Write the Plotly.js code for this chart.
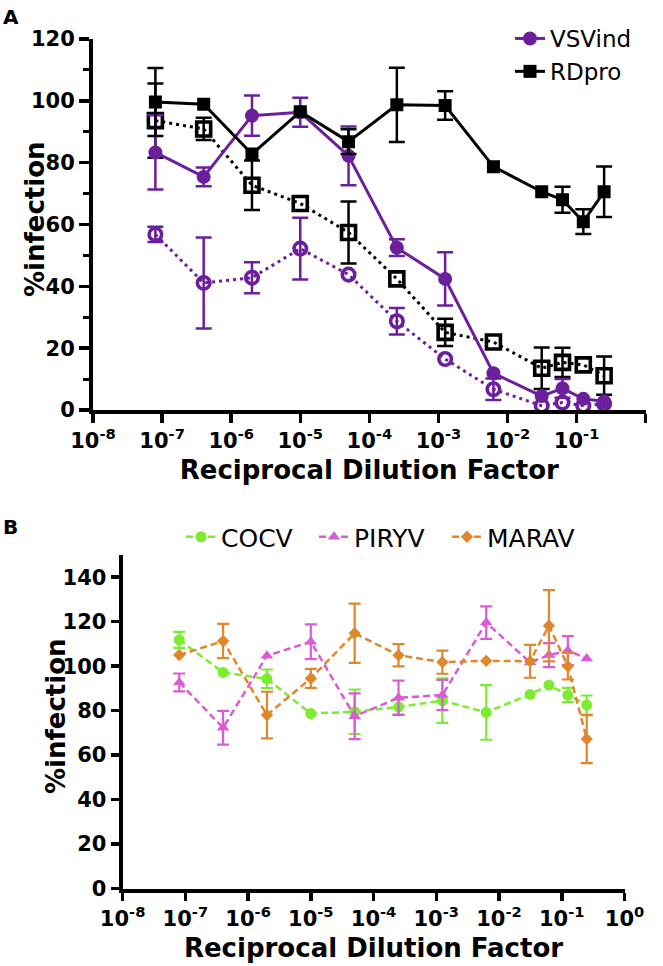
<!DOCTYPE html>
<html>
<head>
<meta charset="utf-8">
<script src="https://cdn.plot.ly/plotly-3.0.1.min.js"></script>
<style>html,body{margin:0;padding:0;background:#fff;} #chart{width:663px;height:966px;}</style>
</head>
<body>
<div id="chart"></div>
<script>
// ---- Data ----
const dilution = [8e-8, 4e-7, 2e-6, 1e-5, 5e-5, 2.5e-4, 1.25e-3, 6.25e-3, 0.03125, 0.0625, 0.125, 0.25];
const tickVals = [1e-8, 1e-7, 1e-6, 1e-5, 1e-4, 1e-3, 1e-2, 1e-1, 1];
const tickText = ['10<sup>-8</sup>', '10<sup>-7</sup>', '10<sup>-6</sup>', '10<sup>-5</sup>', '10<sup>-4</sup>', '10<sup>-3</sup>', '10<sup>-2</sup>', '10<sup>-1</sup>', '10<sup>0</sup>'];

// Panel A
const vsvind      = [83.3, 75.4, 95.2, 96.3, 82.2, 52.5, 42.4, 11.9, 4.5, 7.0, 3.6, 2.8];
const vsvindErr   = [12, 3, 6.5, 4.7, 9.5, 2.7, 8.6, null, null, 3, null, null];
const vsvindOpen  = [56.8, 41.1, 42.8, 52.2, 43.8, 28.7, 16.5, 6.7, 1.4, 2.4, 1.4, 2.0];
const vsvindOpenErr = [2.5, 14.7, 5, 10, null, 4.3, null, 3.5, null, null, null, null];
const rdpro       = [99.6, 98.9, 82.8, 96.5, 86.8, 98.7, 98.5, 78.7, 70.6, 68.0, 60.9, 70.6];
const rdproErr    = [11, null, null, null, 4, 12, 4.6, null, null, 4.2, 4, 8.2];
const rdproOpen   = [93.6, 90.9, 72.7, 66.8, 57.4, 42.4, 25.1, 22.0, 13.5, 15.4, 14.6, 11.1];
const rdproOpenErr = [12, 3.6, 8, null, 10, null, 4.4, null, 6.7, 4.7, null, 6.2];

// Panel B
const cocv     = [111.8, 97.2, 94.3, 78.7, 79.5, 81.7, 84.5, 79.2, 87.3, 91.5, 87.0, 82.5];
const cocvErr  = [3.6, null, 4.2, null, 10, 3.5, 10, 12.3, null, null, 3.2, 4.3];
const piryv    = [92.7, 72.3, 104.7, 111.0, 77.5, 85.8, 87.0, 119.6, 101.7, 105.0, 107.0, 103.5];
const piryvErr = [4, 7.6, null, 7.8, 10.3, 7.7, 6.8, 7.3, null, 5.4, 6.5, null];
const marav    = [105.0, 111.3, 78.0, 94.5, 114.8, 104.9, 101.8, 102.4, 102.2, 118.2, 100.0, 67.2];
const maravErr = [null, 7.7, 10.5, 4.3, 13.3, 5, 5.2, null, 7.4, 16, 6, 10.8];

const labelA = 'A', labelB = 'B';
const xTitle = 'Reciprocal Dilution Factor';
const yTitle = '%infection';

// ---- Styling ----
const PURPLE = '#6B1F9C';
const BLACK = '#000000';
const GREEN = '#7DEB2F';
const MAGENTA = '#D95CD6';
const ORANGE = '#E0862B';
const clean = a => a.map(v => v === null ? NaN : v);

function errA(arr, color) {
  return {type: 'data', array: clean(arr), visible: true, color: color, thickness: 2.5, width: 8};
}
function errB(arr, color) {
  return {type: 'data', array: clean(arr), visible: true, color: color, thickness: 2.2, width: 6};
}

const traces = [
  {x: dilution, y: vsvindOpen, xaxis: 'x', yaxis: 'y', mode: 'lines+markers', showlegend: false,
   line: {color: PURPLE, width: 3, dash: '3px,4px'},
   marker: {symbol: 'circle-open', size: 12.5, color: PURPLE, line: {color: PURPLE, width: 3.6}},
   error_y: errA(vsvindOpenErr, PURPLE), name: 'VSVind (open)'},
  {x: dilution, y: rdproOpen, xaxis: 'x', yaxis: 'y', mode: 'lines+markers', showlegend: false,
   line: {color: BLACK, width: 3, dash: '3px,4px'},
   marker: {symbol: 'square-open', size: 14, color: BLACK, line: {color: BLACK, width: 3.6}},
   error_y: errA(rdproOpenErr, BLACK), name: 'RDpro (open)'},
  {x: dilution, y: vsvind, xaxis: 'x', yaxis: 'y', mode: 'lines+markers', name: 'VSVind', legend: 'legend',
   line: {color: PURPLE, width: 3},
   marker: {symbol: 'circle', size: 14, color: PURPLE},
   error_y: errA(vsvindErr, PURPLE)},
  {x: dilution, y: rdpro, xaxis: 'x', yaxis: 'y', mode: 'lines+markers', name: 'RDpro', legend: 'legend',
   line: {color: BLACK, width: 3},
   marker: {symbol: 'square', size: 13, color: BLACK},
   error_y: errA(rdproErr, BLACK)},

  {x: dilution, y: cocv, xaxis: 'x2', yaxis: 'y2', mode: 'lines+markers', name: 'COCV', legend: 'legend2',
   line: {color: GREEN, width: 2.5, dash: '7px,4px'},
   marker: {symbol: 'circle', size: 11, color: GREEN},
   error_y: errB(cocvErr, GREEN)},
  {x: dilution, y: piryv, xaxis: 'x2', yaxis: 'y2', mode: 'lines+markers', name: 'PIRYV', legend: 'legend2',
   line: {color: MAGENTA, width: 2.5, dash: '7px,4px'},
   marker: {symbol: 'triangle-up', size: 11, color: MAGENTA},
   error_y: errB(piryvErr, MAGENTA)},
  {x: dilution, y: marav, xaxis: 'x2', yaxis: 'y2', mode: 'lines+markers', name: 'MARAV', legend: 'legend2',
   line: {color: ORANGE, width: 2.5, dash: '7px,4px'},
   marker: {symbol: 'diamond', size: 9.5, color: ORANGE},
   error_y: errB(maravErr, ORANGE)}
];

const W = 663, H = 966;
const FONT = 'DejaVu Sans, Liberation Sans, Arial, sans-serif';

function xAxis(domain, anchor, tl) {
  return {
    domain: domain, anchor: anchor, type: 'log', range: [-8, 0],
    tickmode: 'array', tickvals: tickVals, ticktext: tickText,
    ticks: 'outside', ticklen: tl, tickwidth: 3.5, tickcolor: BLACK,
    showline: true, linewidth: 4, linecolor: BLACK,
    showgrid: false, zeroline: false, automargin: false,
    tickfont: {family: FONT, size: 21, weight: 'bold', color: BLACK},
    title: {text: xTitle, font: {family: FONT, size: 26, weight: 'bold', color: BLACK}, standoff: 10}
  };
}
function yAxis(domain, anchor, range, minor, tl) {
  const ax = {
    domain: domain, anchor: anchor, range: range, tick0: 0, dtick: 20,
    ticks: 'outside', ticklen: tl, tickwidth: 3.5, tickcolor: BLACK,
    showline: true, linewidth: 4, linecolor: BLACK,
    showgrid: false, zeroline: false, automargin: false,
    tickfont: {family: FONT, size: 21, weight: 'bold', color: BLACK}
  };
  if (minor) ax.minor = {dtick: 10, tick0: 0, ticks: 'outside', ticklen: 6, tickwidth: 3, tickcolor: BLACK, showgrid: false};
  return ax;
}

const yTitleFont = {family: FONT, size: 26, weight: 'bold', color: BLACK};

const layout = {
  width: W, height: H,
  margin: {l: 0, r: 0, t: 0, b: 0},
  paper_bgcolor: '#ffffff', plot_bgcolor: '#ffffff',
  font: {family: FONT, color: BLACK},
  xaxis: xAxis([93 / W, 645.7 / W], 'y', 9),
  yaxis: yAxis([(H - 410) / H, (H - 39) / H], 'x', [0, 120], true, 10),
  xaxis2: xAxis([122.6 / W, 624.5 / W], 'y2', 8),
  yaxis2: yAxis([(H - 888.5) / H, (H - 555) / H], 'x2', [0, 150], false, 8),
  legend: {x: 510 / W, xanchor: 'left', y: (H - 17) / H, yanchor: 'top',
    bgcolor: 'rgba(0,0,0,0)', borderwidth: 0, tracegroupgap: 0,
    font: {family: FONT, size: 23, color: BLACK}},
  legend2: {orientation: 'h', x: 181 / W, xanchor: 'left', y: (H - 537) / H, yanchor: 'middle',
    bgcolor: 'rgba(0,0,0,0)', borderwidth: 0, entrywidth: 88, entrywidthmode: 'pixels',
    font: {family: FONT, size: 25, color: BLACK}},
  annotations: [
    {text: labelA, xref: 'paper', yref: 'paper', x: 1 / W, y: (H - 3) / H, xanchor: 'left', yanchor: 'top',
     showarrow: false, font: {family: FONT, size: 20, weight: 'bold', color: BLACK}},
    {text: labelB, xref: 'paper', yref: 'paper', x: 1 / W, y: (H - 513) / H, xanchor: 'left', yanchor: 'top',
     showarrow: false, font: {family: FONT, size: 20, weight: 'bold', color: BLACK}},
    {text: yTitle, xref: 'paper', yref: 'paper', x: 35 / W, y: (H - 219) / H, xanchor: 'center', yanchor: 'middle',
     textangle: -90, showarrow: false, font: yTitleFont},
    {text: yTitle, xref: 'paper', yref: 'paper', x: 56 / W, y: (H - 716) / H, xanchor: 'center', yanchor: 'middle',
     textangle: -90, showarrow: false, font: yTitleFont}
  ]
};

Plotly.newPlot('chart', traces, layout, {staticPlot: true, displayModeBar: false});
</script>
</body>
</html>
